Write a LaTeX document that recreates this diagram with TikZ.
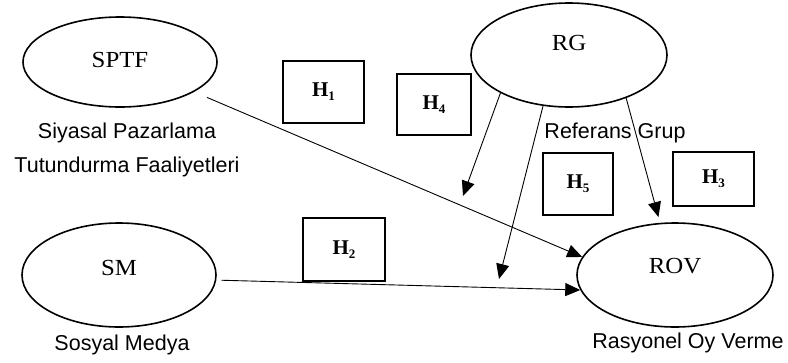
\documentclass[tikz,border=0pt]{standalone}
\usepackage{fontspec}
\setmainfont{Liberation Serif}
\setsansfont{Liberation Sans}
\newfontfamily\wideserif[FakeStretch=1.08]{Liberation Serif}
\usetikzlibrary{shapes.geometric,arrows.meta}
\newcommand{\hlabel}[1]{H\raisebox{-4pt}{\fontsize{13}{13}\selectfont #1}}
\begin{document}
\begin{tikzpicture}[x=1pt,y=-1pt,
  construct/.style={ellipse,draw,line width=1.6pt,inner sep=0pt},
  ctext/.style={font=\wideserif\fontsize{23}{23}\selectfont},
  caption/.style={font=\sffamily\fontsize{21.5}{34}\selectfont,align=center,inner sep=0pt},
  hyp/.style={rectangle,draw,line width=1.6pt,inner sep=0pt,
    font=\bfseries\fontsize{21}{21}\selectfont},
  path/.style={line width=0.9pt,-{Triangle[length=15pt,width=13pt]}}]
\useasboundingbox (0,0) rectangle (788,362);

% latent constructs
\node[construct,minimum width=194pt,minimum height=90pt,
  label={[ctext,yshift=2pt]center:SPTF}] (sptf) at (120,62) {};
\node[construct,minimum width=196pt,minimum height=104pt,
  label={[ctext,yshift=12pt]center:RG}] (rg) at (569,55) {};
\node[construct,minimum width=194pt,minimum height=104pt,
  label={[ctext,yshift=7pt]center:SM}] (sm) at (119,275) {};
\node[construct,minimum width=196pt,minimum height=104pt,
  label={[ctext,yshift=9pt]center:ROV}] (rov) at (675,275) {};

% captions under the constructs
\node[caption] (sptfcap) at (127,150) {Siyasal Pazarlama\\Tutundurma Faaliyetleri};
\node[caption] (rgcap) at (615,133) {Referans Grup};
\node[caption] (smcap) at (122,345) {Sosyal Medya};
\node[caption] (rovcap) at (688,343) {Rasyonel Oy Verme};

% hypothesis boxes
\node[hyp,minimum width=81pt,minimum height=62pt] (h1) at (323.5,92) {\hlabel{1}};
\node[hyp,minimum width=74pt,minimum height=61pt] (h4) at (434,104.5) {\hlabel{4}};
\node[hyp,minimum width=70pt,minimum height=62pt] (h5) at (578,184) {\hlabel{5}};
\node[hyp,minimum width=81pt,minimum height=54pt] (h3) at (713.5,179) {\hlabel{3}};
\node[hyp,minimum width=82pt,minimum height=63pt] (h2) at (344,249.5) {\hlabel{2}};

% free ends of the moderating paths
\coordinate (m4) at (463,196);
\coordinate (m5) at (499,279);

% structural paths
\draw[path,shorten <=14pt] (sptf.-22) -- (rov.169);
\draw[path,shorten <=5pt] (sm.-3) -- (rov.189);
\draw[path] (rg.209) -- (m4);
\draw[path] (rg.243) -- (m5);
\draw[path,shorten >=6pt] (rg.323) -- (rov.106);
\end{tikzpicture}
\end{document}
